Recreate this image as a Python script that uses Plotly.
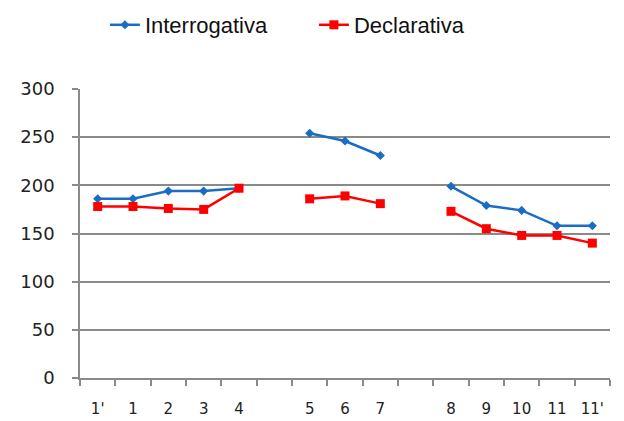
import plotly.graph_objects as go

# Category labels; None marks an empty slot (gap) on the axis
categories = ["1'", "1", "2", "3", "4", None, "5", "6", "7", None, "8", "9", "10", "11", "11'"]
interrogativa = [186, 186, 194, 194, 197, None, 254, 246, 231, None, 199, 179, 174, 158, 158]
declarativa = [178, 178, 176, 175, 197, None, 186, 189, 181, None, 173, 155, 148, 148, 140]
y_ticks = [0, 50, 100, 150, 200, 250, 300]

positions = list(range(len(categories)))
label_pos = [p for p, c in zip(positions, categories) if c is not None]
label_txt = [c for c in categories if c is not None]

fig = go.Figure()
fig.add_trace(go.Scatter(
    x=positions, y=interrogativa, name="Interrogativa", mode="lines+markers",
    line=dict(color="#1a6cc4", width=2.5),
    marker=dict(symbol="diamond", size=7, color="#1a6cc4"),
    connectgaps=False,
))
fig.add_trace(go.Scatter(
    x=positions, y=declarativa, name="Declarativa", mode="lines+markers",
    line=dict(color="#ff0000", width=2.5),
    marker=dict(symbol="square", size=9, color="#ff0000"),
    connectgaps=False,
))

fig.update_layout(
    width=624, height=421,
    margin=dict(l=72, r=22, t=81, b=51, autoexpand=False),
    paper_bgcolor="white", plot_bgcolor="white",
    font=dict(family="DejaVu Sans", size=15, color="#222222"),
    showlegend=True,
    legend=dict(
        orientation="h", x=0.047, xanchor="left", y=1.2215, yanchor="middle",
        font=dict(family="Liberation Sans Narrow, Liberation Sans", size=22, color="#111111"),
        entrywidth=164, entrywidthmode="pixels", traceorder="normal",
    ),
)
fig.update_xaxes(
    range=[-0.5, len(categories) - 0.5],
    tickmode="array", tickvals=label_pos, ticktext=label_txt,
    ticks="outside", ticklen=16, tickcolor="rgba(0,0,0,0)",
    showgrid=False, zeroline=False,
    showline=True, linecolor="#8a8a8a", linewidth=1.5,
    minor=dict(tickmode="linear", tick0=-0.5, dtick=1, ticks="outside",
               ticklen=6, tickcolor="#8a8a8a", tickwidth=1.5, showgrid=False),
    tickfont=dict(family="DejaVu Sans", size=15, color="#222222"),
    automargin=False,
)
fig.update_yaxes(
    range=[0, 300], tickmode="array", tickvals=y_ticks,
    ticks="outside", ticklen=6, tickcolor="#8a8a8a", tickwidth=1.5,
    showgrid=True, gridcolor="#8a8a8a", gridwidth=1.5,
    zeroline=False, showline=True, linecolor="#8a8a8a", linewidth=1.5,
    tickfont=dict(family="DejaVu Sans", size=18, color="#222222"),
    ticklabelstandoff=14, automargin=False,
)

fig.write_html("out.html")
